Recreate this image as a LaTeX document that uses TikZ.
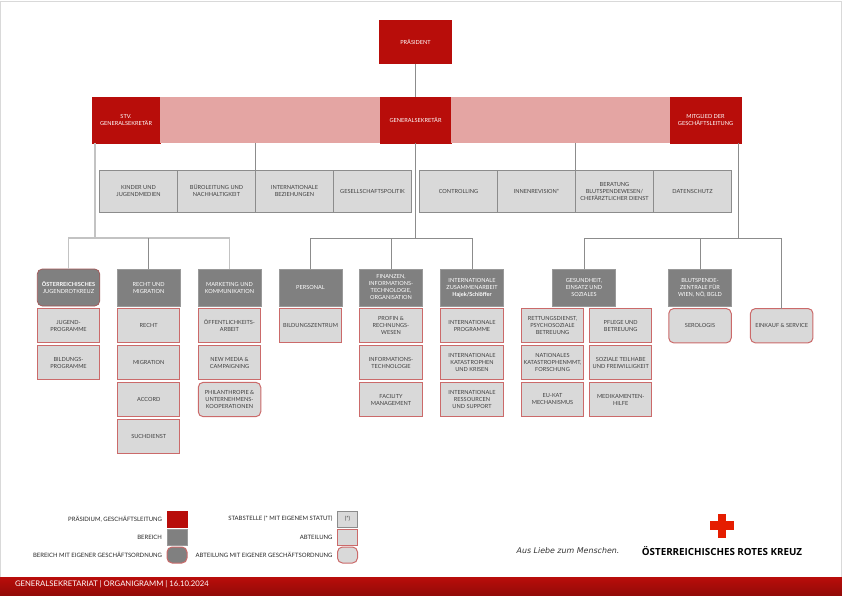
\documentclass[tikz,border=0pt]{standalone}
\usepackage{fontspec}
\setmainfont{Lato}
\newfontfamily\logofont{Open Sans}
\newfontfamily\sloganfont{DejaVu Sans}
\usetikzlibrary{positioning}
\definecolor{orkrot}{HTML}{B80D0A}
\definecolor{orkrosa}{HTML}{E4A5A3}
\definecolor{orkgrau}{HTML}{808080}
\definecolor{orkhell}{HTML}{D9D9D9}
\definecolor{orkrand}{HTML}{CB6A6A}
\definecolor{orklinie}{HTML}{8C8C8C}
\definecolor{orktext}{HTML}{404040}
\tikzset{
    rot/.style={fill=orkrot, draw=orkrot, text=white, minimum width=71pt, minimum height=46pt},
    rosa/.style={fill=orkrosa, minimum height=46pt},
    kopf/.style={fill=orkgrau, draw=orkgrau!80, text=white, minimum width=63pt, minimum height=37pt},
    abt/.style={fill=orkhell, draw=orkrand, line width=1pt, text=orktext, minimum width=62.5pt, minimum height=34.4pt},
    stab/.style={fill=orkhell, draw=orklinie, line width=0.9pt, text=orktext, minimum width=78pt, minimum height=42pt},
    rund/.style={rounded corners=5pt},
    leg/.style={minimum width=20pt, minimum height=16pt},
    legtext/.style={anchor=east, text=black!85, font=\fontsize{5.95}{7}\selectfont},
    linie/.style={draw=orklinie, line width=0.7pt},
    hell/.style={draw=orkhell!90!black, line width=1.2pt}
}

\begin{document}
\begin{tikzpicture}
  [
    x                       = 1pt,
    y                       = -1pt,
    node distance           = 2.5pt,
    every node/.style       = {font=\fontsize{5.6}{7}\selectfont, align=center, inner sep=0pt, outer sep=0pt, line width=0.7pt},
  ]
  \useasboundingbox (0,0) rectangle (842,595);
  \draw [orkhell, line width=1pt] (0.5,595) -- (0.5,1) -- (841.5,1) -- (841.5,595);

  % spitze
  \node [rot, minimum width=71.5pt, minimum height=43pt] (praes) at (415.5,42) {PRÄSIDENT};
  \node [rot, minimum width=68pt] (stv) at (126,120) {STV.\\GENERALSEKRETÄR};
  \node [rosa, minimum width=220pt, right=0pt of stv] (bandl) {};
  \node [rot, right=0pt of bandl] (gs) {GENERALSEKRETÄR};
  \node [rosa, minimum width=219pt, right=0pt of gs] (bandr) {};
  \node [rot, right=0pt of bandr] (mitglied) {MITGLIED DER\\GESCHÄFTSLEITUNG};

  % stabstellen
  \node [stab] (kinder) at (138.5,191) {KINDER UND\\JUGENDMEDIEN};
  \node [stab, right=0pt of kinder] (buero) {BÜROLEITUNG UND\\NACHHALTIGKEIT};
  \node [stab, right=0pt of buero] (intbez) {INTERNATIONALE\\BEZIEHUNGEN};
  \node [stab, right=0pt of intbez] (gespol) {GESELLSCHAFTSPOLITIK};
  \node [stab] (contr) at (458.5,191) {CONTROLLING};
  \node [stab, right=0pt of contr] (revision) {INNENREVISION*};
  \node [stab, right=0pt of revision] (beratung) {BERATUNG\\BLUTSPENDEWESEN/\\CHEFÄRZTLICHER DIENST};
  \node [stab, right=0pt of beratung] (daten) {DATENSCHUTZ};

  % bereiche links
  \node [kopf, rund, draw=orkrand!80!black, minimum width=62.5pt] (jrk) at (68.5,287.5) {\textbf{ÖSTERREICHISCHES}\\JUGENDROTKREUZ};
  \node [abt, below=of jrk] (jugend) {JUGEND-\\PROGRAMME};
  \node [abt, below=of jugend] (bildung) {BILDUNGS-\\PROGRAMME};

  \node [kopf] (recht) at (148.7,287.5) {RECHT UND\\MIGRATION};
  \node [abt, below=of recht] (rechtabt) {RECHT};
  \node [abt, below=of rechtabt] (migration) {MIGRATION};
  \node [abt, below=of migration] (accord) {ACCORD};
  \node [abt, below=of accord] (such) {SUCHDIENST};

  \node [kopf] (marketing) at (229.5,287.5) {MARKETING UND\\KOMMUNIKATION};
  \node [abt, below=of marketing] (oeffentlich) {ÖFFENTLICHKEITS-\\ARBEIT};
  \node [abt, below=of oeffentlich] (newmedia) {NEW MEDIA \&\\CAMPAIGNING};
  \node [abt, rund, below=of newmedia] (philan) {PHILANTHROPIE \&\\UNTERNEHMENS-\\KOOPERATIONEN};

  % bereiche mitte
  \node [kopf] (personal) at (310.5,287.5) {PERSONAL};
  \node [abt, below=of personal] (bz) {BILDUNGSZENTRUM};

  \node [kopf] (finanzen) at (391,287.5) {FINANZEN,\\INFORMATIONS-\\TECHNOLOGIE,\\ORGANISATION};
  \node [abt, below=of finanzen] (profin) {PROFIN \&\\RECHNUNGS-\\WESEN};
  \node [abt, below=of profin] (it) {INFORMATIONS-\\TECHNOLOGIE};
  \node [abt, below=of it] (facility) {FACILITY\\MANAGEMENT};

  \node [kopf] (zusammen) at (472,287.5) {INTERNATIONALE\\ZUSAMMENARBEIT\\\textbf{Hajek/Schlöffer}};
  \node [abt, below=of zusammen] (programme) {INTERNATIONALE\\PROGRAMME};
  \node [abt, below=of programme] (krisen) {INTERNATIONALE\\KATASTROPHEN\\UND KRISEN};
  \node [abt, below=of krisen] (support) {INTERNATIONALE\\RESSOURCEN\\UND SUPPORT};

  % bereiche rechts
  \node [kopf] (gesund) at (584,287.5) {GESUNDHEIT,\\EINSATZ UND\\SOZIALES};
  \node [abt] (rettung) at (552.5,325.7) {RETTUNGSDIENST,\\PSYCHOSOZIALE\\BETREUUNG};
  \node [abt, below=of rettung] (kat) {NATIONALES\\KATASTROPHENMMT,\\FORSCHUNG};
  \node [abt, below=of kat] (eukat) {EU-KAT\\MECHANISMUS};
  \node [abt] (pflege) at (620.7,325.7) {PFLEGE UND\\BETREUUNG};
  \node [abt, below=of pflege] (teilhabe) {SOZIALE TEILHABE\\UND FREIWILLIGKEIT};
  \node [abt, below=of teilhabe] (medi) {MEDIKAMENTEN-\\HILFE};

  \node [kopf] (blut) at (700,287.5) {BLUTSPENDE-\\ZENTRALE FÜR\\WIEN, NÖ, BGLD};
  \node [abt, rund, below=of blut] (sero) {SEROLOGIS};
  \node [abt, rund] (einkauf) at (781.7,325.7) {EINKAUF \& SERVICE};

  % verbindungen
  \coordinate (busl) at (95,238);
  \coordinate (busm) at (415.5,238);
  \coordinate (busr) at (738,238);
  \draw [linie] (praes) -- (gs);
  \draw [linie] (gs) -- (busm);
  \draw [linie] (bandl.south -| buero.east) -- ++(0,37);
  \draw [linie] (bandr.south -| revision.east) -- ++(0,37);
  \draw [linie] (mitglied.south -| busr) -- (busr);
  \draw [hell] (stv.south -| busl) -- (busl);
  \draw [hell] (jrk.north) |- (busl);
  \draw [hell] (marketing.north) |- (busl);
  \draw [linie] (recht.north) -- (recht.north |- busl);
  \draw [linie] (personal.north) |- (busm);
  \draw [linie] (finanzen.north) -- (finanzen.north |- busm);
  \draw [linie] (busm) -| (zusammen.north);
  \draw [linie] (gesund.north) |- (busr);
  \draw [linie] (blut.north) -- (blut.north |- busr);
  \draw [linie] (busr) -| (einkauf.north);

  % legende
  \node [rot, leg] (lega) at (177,519) {};
  \node [kopf, leg, below=2pt of lega] (legb) {};
  \node [kopf, rund, leg, draw=orkrand, line width=1pt, below=2pt of legb] (legc) {};
  \node [stab, leg] (legd) at (347.5,519) {(*)};
  \node [abt, leg, below=2pt of legd] (lege) {};
  \node [abt, rund, leg, below=2pt of lege] (legf) {};
  \node [legtext, left=5pt of lega] {PRÄSIDIUM, GESCHÄFTSLEITUNG};
  \node [legtext, left=5pt of legb] {BEREICH};
  \node [legtext, left=5pt of legc] {BEREICH MIT EIGENER GESCHÄFTSORDNUNG};
  \node [legtext, left=5pt of legd] {STABSTELLE (* MIT EIGENEM STATUT)};
  \node [legtext, left=5pt of lege] {ABTEILUNG};
  \node [legtext, left=5pt of legf] {ABTEILUNG MIT EIGENER GESCHÄFTSORDNUNG};

  % logo
  \fill [red!75!orange!90!black] (709.7,521) rectangle (734.3,529.5);
  \fill [red!75!orange!90!black] (717.5,514) rectangle (726,538);
  \node (logotext) at (722,551) {\logofont\fontsize{9.8}{11}\selectfont\bfseries ÖSTERREICHISCHES ROTES KREUZ};
  \node [text=black!80] (slogan) at (568,551) {\sloganfont\fontsize{7.9}{9}\selectfont\itshape Aus Liebe zum Menschen.};

  % fuss
  \node [top color=orkrot, bottom color=orkrot!80!black, minimum width=842pt, minimum height=17.5pt, anchor=north west] (fuss) at (0,577.5) {};
  \node [text=white, anchor=west, font=\fontsize{7.7}{9}\selectfont] (fusstext) at (15,584) {GENERALSEKRETARIAT | ORGANIGRAMM | 16.10.2024};
\end{tikzpicture}
\end{document}
